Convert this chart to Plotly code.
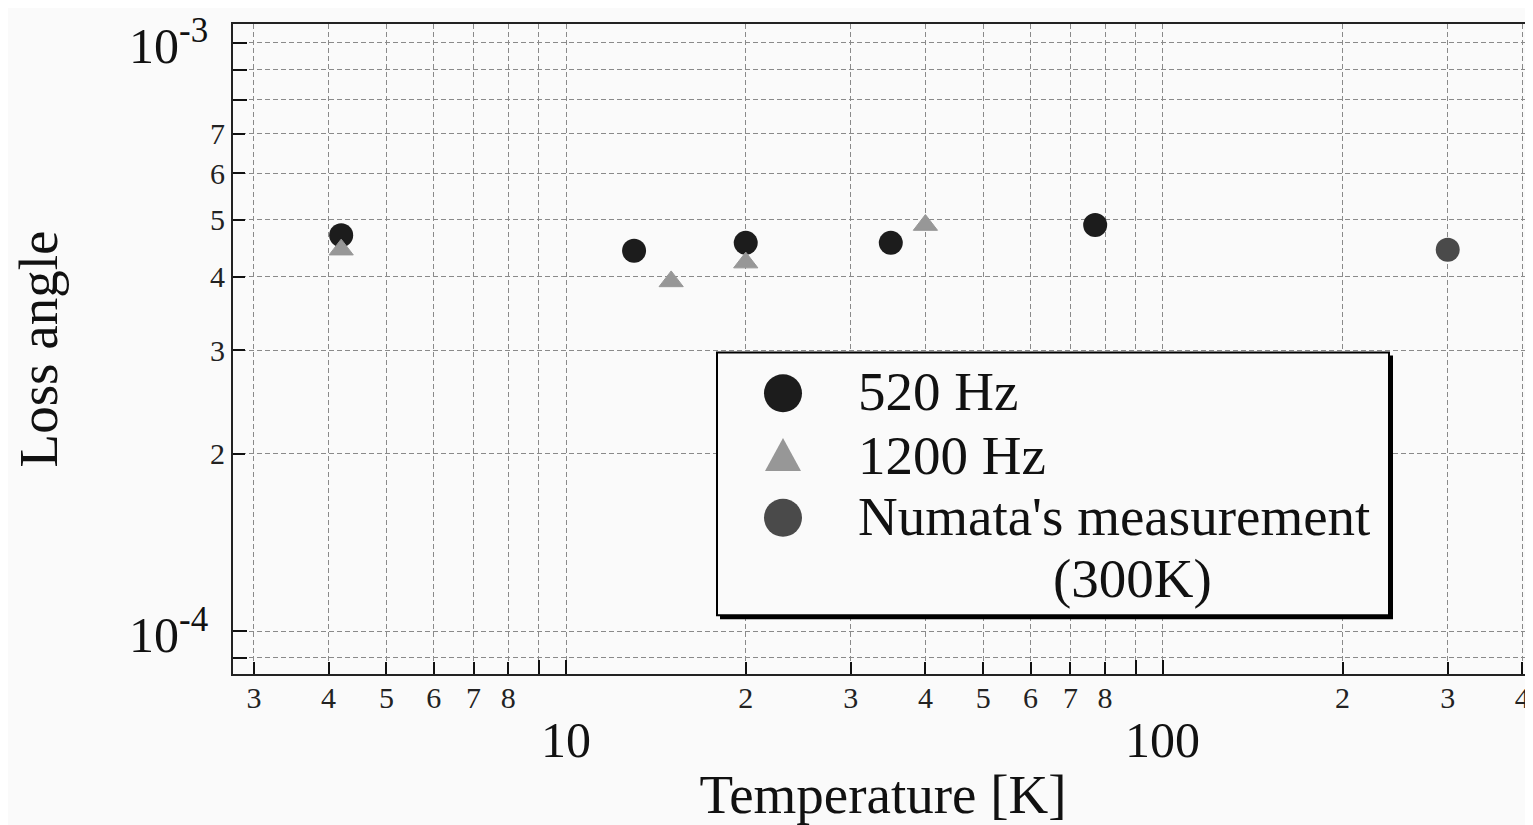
import math
import plotly.graph_objects as go

# ---------------- data ----------------
T_520 = [4.2, 13, 20, 35, 77]
loss_520 = [4.71e-4, 4.43e-4, 4.57e-4, 4.57e-4, 4.90e-4]

T_1200 = [4.2, 15, 20, 40]
loss_1200 = [4.45e-4, 3.93e-4, 4.23e-4, 4.90e-4]

T_numata = [300]
loss_numata = [4.45e-4]

# labelled (small) ticks
x_tickvals = [3, 4, 5, 6, 7, 8, 20, 30, 40, 50, 60, 70, 80, 200, 300, 400]
x_ticktext = ["3", "4", "5", "6", "7", "8", "2", "3", "4", "5", "6", "7", "8", "2", "3", "4"]
# unlabelled ticks / grid lines
x_minorvals = [9, 10, 90, 100]
x_decades = [10, 100]

y_tickvals = [2e-4, 3e-4, 4e-4, 5e-4, 6e-4, 7e-4]
y_ticktext = ["2", "3", "4", "5", "6", "7"]
y_minorvals = [9e-5, 1e-4, 8e-4, 9e-4, 1e-3]
y_decades = [1e-4, 1e-3]
y_decade_text = ["10<sup>-4</sup>", "10<sup>-3</sup>"]

legend_names = ["520 Hz", "1200 Hz", "Numata's measurement"]

# ---------------- layout geometry (screen pixels) ----------------
W, H = 1533, 825
OFF = 8                     # default page body margin
L, T, B = 233, 24, 148      # plot area: x 233..1533, y 24..677
PW, PH = W - L, H - T - B

def px2x(px):
    return (px - L) / PW

def py2y(py):
    return (H - B - py) / PH

FONT = "Liberation Serif, Times New Roman, serif"
C520 = "#1c1c1c"
C1200 = "#979797"
CNUM = "#4a4a4a"
GRID = "#8a8a8a"
DASH = "5px,3px"

fig = go.Figure()
fig.add_trace(go.Scatter(x=T_520, y=loss_520, mode="markers", name=legend_names[0],
                         marker=dict(symbol="circle", size=24, color=C520)))
fig.add_trace(go.Scatter(x=T_1200, y=loss_1200, mode="markers", name=legend_names[1],
                         marker=dict(symbol="triangle-up", size=21, color=C1200,
                                     line=dict(width=1, color=C1200))))
fig.add_trace(go.Scatter(x=T_numata, y=loss_numata, mode="markers", name=legend_names[2],
                         marker=dict(symbol="circle", size=24, color=CNUM)))

fig.update_layout(
    width=W - OFF, height=H - OFF,
    margin=dict(l=L - OFF, r=0, t=T - OFF, b=B, pad=0),
    paper_bgcolor="#fafafa", plot_bgcolor="#fafafa",
    showlegend=False,
    font=dict(family=FONT, color="#111111"),
)

fig.update_xaxes(
    type="log", range=[0.442, 2.620],
    tickmode="array", tickvals=x_tickvals, ticktext=x_ticktext,
    tickfont=dict(size=30, family=FONT, color="#222"),
    ticks="inside", ticklen=12, tickwidth=1.5, tickcolor="#111",
    ticklabelstandoff=-4,
    minor=dict(tickmode="array", tickvals=x_minorvals, ticks="inside", ticklen=14,
               tickwidth=1.5, tickcolor="#111", showgrid=True, gridcolor=GRID,
               gridwidth=1, griddash=DASH),
    showline=True, linewidth=2, linecolor="#222", mirror=True,
    showgrid=True, gridcolor=GRID, gridwidth=1, griddash=DASH,
    zeroline=False,
    title=dict(text="Temperature [K]", font=dict(size=55, family=FONT, color="#111"), standoff=72),
)
fig.update_yaxes(
    type="log", range=[-4.073, -2.968],
    tickmode="array", tickvals=y_tickvals, ticktext=y_ticktext,
    tickfont=dict(size=30, family=FONT, color="#222"),
    ticks="inside", ticklen=12, tickwidth=1.5, tickcolor="#111",
    minor=dict(tickmode="array", tickvals=y_minorvals, ticks="inside", ticklen=14,
               tickwidth=1.5, tickcolor="#111", showgrid=True, gridcolor=GRID,
               gridwidth=1, griddash=DASH),
    showline=True, linewidth=2, linecolor="#222", mirror=False,
    showgrid=True, gridcolor=GRID, gridwidth=1, griddash=DASH,
    zeroline=False,
    title=dict(text="Loss angle", font=dict(size=55, family=FONT, color="#111"), standoff=135),
)

annotations = []
# decade labels on x axis
for v in x_decades:
    annotations.append(dict(x=math.log10(v), xref="x", y=py2y(743), yref="paper",
                            text=str(v), showarrow=False, xanchor="center", yanchor="middle",
                            font=dict(size=50, family=FONT, color="#111")))
# decade labels on y axis
for v, t in zip(y_decades, y_decade_text):
    annotations.append(dict(x=px2x(210), xref="paper", y=math.log10(v), yref="y",
                            text=t, showarrow=False, xanchor="right", yanchor="middle",
                            font=dict(size=50, family=FONT, color="#111")))

# custom legend (large symbols as in the reference)
shapes = [
    dict(type="rect", xref="paper", yref="paper", x0=px2x(720), x1=px2x(1393),
         y0=py2y(622), y1=py2y(357), fillcolor="#000", line=dict(width=0), layer="above"),
    dict(type="rect", xref="paper", yref="paper", x0=px2x(717), x1=px2x(1389),
         y0=py2y(618), y1=py2y(354), fillcolor="#fafafa", line=dict(width=2, color="#000"), layer="above"),
    dict(type="circle", xref="paper", yref="paper", xsizemode="pixel", ysizemode="pixel",
         xanchor=px2x(783), yanchor=py2y(395), x0=-19, x1=19, y0=-19, y1=19,
         fillcolor=C520, line=dict(width=0), layer="above"),
    dict(type="path", xref="paper", yref="paper", xsizemode="pixel", ysizemode="pixel",
         xanchor=px2x(783), yanchor=py2y(457), path="M-18,-16 L18,-16 L0,17 Z",
         fillcolor=C1200, line=dict(width=0), layer="above"),
    dict(type="circle", xref="paper", yref="paper", xsizemode="pixel", ysizemode="pixel",
         xanchor=px2x(783), yanchor=py2y(520), x0=-19, x1=19, y0=-19, y1=19,
         fillcolor=CNUM, line=dict(width=0), layer="above"),
]
legend_text_y = [393, 457, 519]
for name, ty in zip(legend_names, legend_text_y):
    annotations.append(dict(x=px2x(856), xref="paper", y=py2y(ty), yref="paper",
                            text=name, showarrow=False, xanchor="left", yanchor="middle",
                            font=dict(size=55, family=FONT, color="#111")))
annotations.append(dict(x=px2x(1132), xref="paper", y=py2y(581), yref="paper",
                        text="(300K)", showarrow=False, xanchor="center", yanchor="middle",
                        font=dict(size=55, family=FONT, color="#111")))

fig.update_layout(annotations=annotations, shapes=shapes)

fig.write_html("out.html")
